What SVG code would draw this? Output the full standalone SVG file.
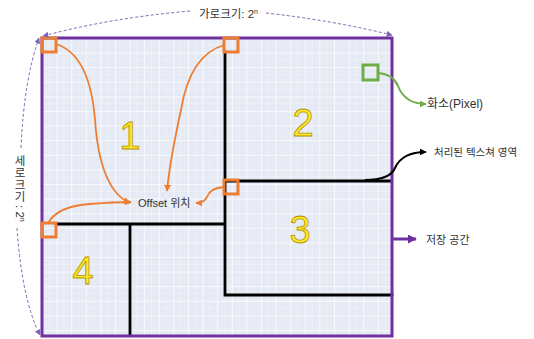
<svg xmlns="http://www.w3.org/2000/svg" width="534" height="339" viewBox="0 0 534 339">
<style>
.lbl{font-family:"Liberation Sans","Noto Sans CJK KR",sans-serif;fill:#333;}
.vl{font-family:"Noto Sans CJK KR",sans-serif;fill:#333;font-size:11.5px;writing-mode:vertical-rl;text-orientation:upright;letter-spacing:0.5px;}
.num{font-family:"Liberation Sans",sans-serif;font-size:38px;fill:#FFE82A;stroke:#B09400;stroke-width:0.8;text-anchor:middle;}
.blk{stroke:#000;stroke-width:2.8;fill:none;stroke-linecap:square;}
.sq{fill:none;stroke:#ED7D31;stroke-width:3;}
.oc{fill:none;stroke:#ED7D31;stroke-width:1.8;}
.dash{fill:none;stroke:#7F62B4;stroke-width:1;stroke-dasharray:3,2.2;}
</style>
<defs>
<pattern id="grid" x="42" y="38" width="14.6" height="14.6" patternUnits="userSpaceOnUse">
<rect width="14.6" height="14.6" fill="#E6EAF4"/>
<path d="M7.3,0V14.6M0,7.3H14.6" stroke="#FFFFFF" stroke-opacity="0.3" stroke-width="0.8"/>
<path d="M0,0V14.6M0,0H14.6" stroke="#FFFFFF" stroke-width="1.4"/>
</pattern>
<marker id="aO" viewBox="0 0 10 10" refX="9" refY="5" markerWidth="7" markerHeight="7" markerUnits="userSpaceOnUse" orient="auto"><path d="M0,0L10,5L0,10z" fill="#ED7D31"/></marker>
<marker id="aG" viewBox="0 0 10 10" refX="9" refY="5" markerWidth="7" markerHeight="7" markerUnits="userSpaceOnUse" orient="auto"><path d="M0,0L10,5L0,10z" fill="#70AD47"/></marker>
<marker id="aK" viewBox="0 0 10 10" refX="9" refY="5" markerWidth="7" markerHeight="7" markerUnits="userSpaceOnUse" orient="auto"><path d="M0,0L10,5L0,10z" fill="#000"/></marker>
<marker id="aP" viewBox="0 0 10 10" refX="9" refY="5" markerWidth="9" markerHeight="9" markerUnits="userSpaceOnUse" orient="auto"><path d="M0,0L10,5L0,10z" fill="#7030A0"/></marker>
<marker id="aD" viewBox="0 0 10 10" refX="9" refY="5" markerWidth="6" markerHeight="6" markerUnits="userSpaceOnUse" orient="auto"><path d="M0,0L10,5L0,10z" fill="#7F62B4"/></marker>
</defs>

<g id="texture">
<rect x="42" y="38" width="350" height="298" fill="url(#grid)"/>
<path class="blk" d="M225,52V295H392M225,181H390M56,224H225M130,224V335"/>
<rect x="42" y="38" width="350" height="298" fill="none" stroke="#7030A0" stroke-width="3"/>
</g>

<g id="regions">
<text class="num" x="130" y="149">1</text>
<text class="num" x="303" y="136">2</text>
<text class="num" x="300" y="243">3</text>
<text class="num" x="83" y="284">4</text>
</g>

<g id="offset-squares">
<rect class="sq" x="42" y="38" width="14" height="14"/>
<rect class="sq" x="224" y="38" width="14" height="14"/>
<rect class="sq" x="224" y="180" width="14" height="14"/>
<rect class="sq" x="42" y="223" width="14" height="14"/>
</g>

<g id="pixel">
<rect x="363" y="65" width="15" height="15" fill="none" stroke="#70AD47" stroke-width="3"/>
</g>

<g id="connectors">
<path class="oc" d="M56,44Q90,55 95,120Q100,190 130,203" marker-end="url(#aO)"/>
<path class="oc" d="M224,45Q190,55 181,110Q170,160 167,191" marker-end="url(#aO)"/>
<path class="oc" d="M48,223Q58,206 90,204Q115,202 131,202" marker-end="url(#aO)"/>
<path class="oc" d="M224,187Q210,188 207,197Q204,203 196,203" marker-end="url(#aO)"/>
<path d="M378,73Q393,74 398,86Q405,104 426,104" fill="none" stroke="#70AD47" stroke-width="2" marker-end="url(#aG)"/>
<path d="M365,180Q390,180 395,168Q402,152 426,152" fill="none" stroke="#000" stroke-width="2" marker-end="url(#aK)"/>
<path d="M392,239H416" fill="none" stroke="#7030A0" stroke-width="3" marker-end="url(#aP)"/>
<path class="dash" d="M190,11Q110,18 43,36" marker-end="url(#aD)"/>
<path class="dash" d="M266,13Q330,20 392,35" marker-end="url(#aD)"/>
<path class="dash" d="M21,148Q24,80 39,38" marker-end="url(#aD)"/>
<path class="dash" d="M17,228Q22,300 40,335" marker-end="url(#aD)"/>
</g>

<g id="labels">
<text class="lbl" x="199" y="18" font-size="11.5">가로크기: 2<tspan font-size="7" dy="-4">n</tspan></text>
<g id="vertical-label">
<text class="vl" x="20" y="155">세로크기</text>
<text class="lbl" font-size="11.5" transform="translate(15.5,205) rotate(90)">: 2<tspan font-size="7" dy="-4">n</tspan></text>
</g>
<text class="lbl" x="427" y="108" font-size="12">화소(Pixel)</text>
<text class="lbl" x="434" y="156" font-size="10.5">처리된 텍스쳐 영역</text>
<text class="lbl" x="426" y="244" font-size="11">저장 공간</text>
<text class="lbl" x="138" y="207" font-size="11">Offset 위치</text>
</g>
</svg>
